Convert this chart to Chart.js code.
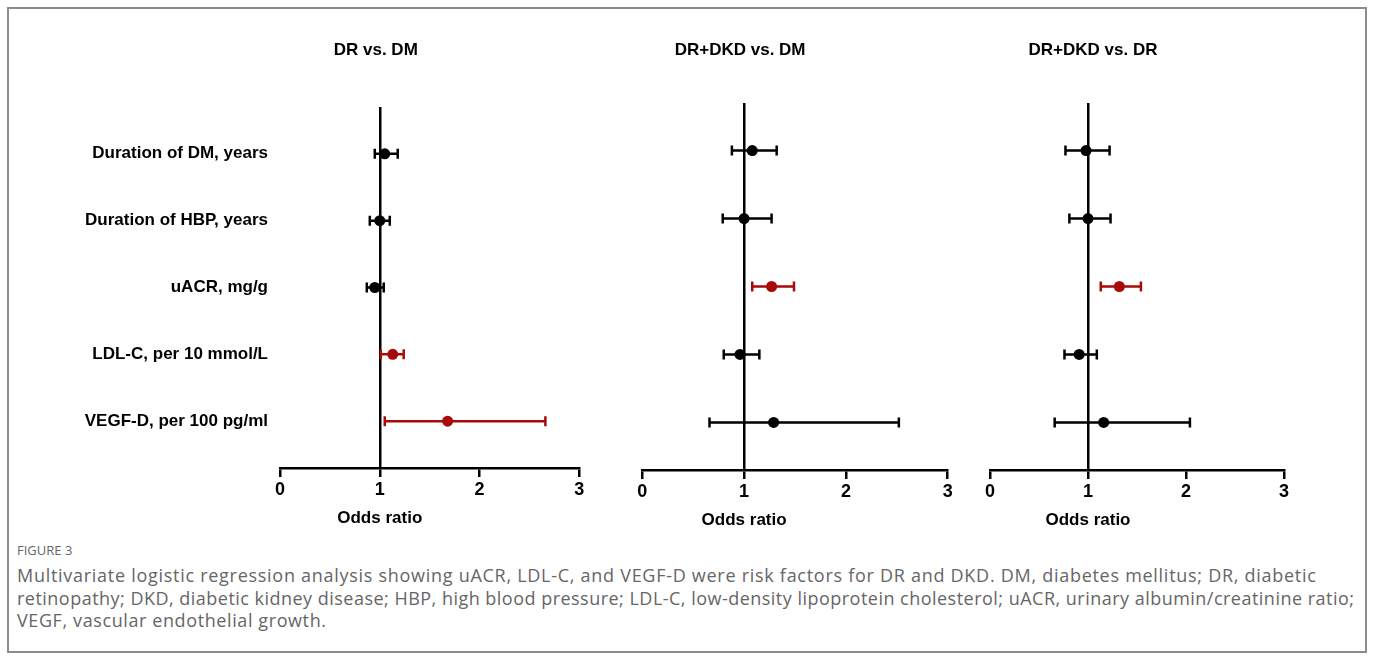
<!DOCTYPE html>
<html>
<head>
<meta charset="utf-8">
<script src="https://cdn.jsdelivr.net/npm/chart.js@4"></script>
<style>
  body { margin: 0; background: #fff; }
  #wrap { position: relative; width: 1373px; height: 659px; overflow: hidden; }
  #frame { position: absolute; left: 7px; top: 7px; width: 1356px; height: 642px; border: 2px solid #8c8c8c; }
  .panel { position: absolute; top: 0; }
  .cap { position: absolute; left: 17px; white-space: nowrap; font-family: "Open Sans", sans-serif; color: #666; }
  #figno { top: 541px; font-size: 13px; }
  .line { font-size: 18px; }
</style>
</head>
<body>
<div id="wrap">
  <div id="frame"></div>
  <div class="panel" style="left:0px;width:600px;height:540px"><canvas id="c1"></canvas></div>
  <div class="panel" style="left:600px;width:370px;height:540px"><canvas id="c2"></canvas></div>
  <div class="panel" style="left:970px;width:340px;height:540px"><canvas id="c3"></canvas></div>
  <div class="cap" id="figno">FIGURE 3</div>
  <div class="cap line" style="top:563px;letter-spacing:0.72px">Multivariate logistic regression analysis showing uACR, LDL-C, and VEGF-D were risk factors for DR and DKD. DM, diabetes mellitus; DR, diabetic</div>
  <div class="cap line" style="top:586px;letter-spacing:0.48px">retinopathy; DKD, diabetic kidney disease; HBP, high blood pressure; LDL-C, low-density lipoprotein cholesterol; uACR, urinary albumin/creatinine ratio;</div>
  <div class="cap line" style="top:608px;letter-spacing:0.6px">VEGF, vascular endothelial growth.</div>
</div>
<script>
const categories = ['Duration of DM, years', 'Duration of HBP, years', 'uACR, mg/g', 'LDL-C, per 10 mmol/L', 'VEGF-D, per 100 pg/ml'];
const panelTitles = ['DR vs. DM', 'DR+DKD vs. DM', 'DR+DKD vs. DR'];
const xTicks = [0, 1, 2, 3];

// odds ratio and 95% CI, one set per comparison
const drDmOR   = [1.05, 1.00, 0.95, 1.13, 1.68];
const drDmLow  = [0.95, 0.90, 0.87, 1.01, 1.05];
const drDmHigh = [1.18, 1.10, 1.04, 1.24, 2.66];

const dkdDmOR   = [1.08, 1.00, 1.27, 0.96, 1.29];
const dkdDmLow  = [0.88, 0.79, 1.08, 0.80, 0.66];
const dkdDmHigh = [1.32, 1.27, 1.49, 1.15, 2.52];

const dkdDrOR   = [0.98, 1.00, 1.32, 0.91, 1.16];
const dkdDrLow  = [0.77, 0.81, 1.13, 0.76, 0.66];
const dkdDrHigh = [1.22, 1.23, 1.54, 1.09, 2.04];

const RED = '#a80a0a';
const FONT = '"Liberation Sans", Arial, sans-serif';

// whiskers with caps, drawn under the dots
const errorBars = {
  id: 'errorBars',
  beforeDatasetsDraw(chart) {
    const ctx = chart.ctx;
    const xs = chart.scales.x, ys = chart.scales.y;
    chart.data.datasets.forEach(ds => {
      ds.data.forEach((p, i) => {
        const y = ys.getPixelForValue(p.y);
        const x1 = xs.getPixelForValue(ds.low[i]);
        const x2 = xs.getPixelForValue(ds.high[i]);
        ctx.save();
        ctx.strokeStyle = ds.backgroundColor[i];
        ctx.lineWidth = 2.5;
        ctx.beginPath();
        ctx.moveTo(x1, y); ctx.lineTo(x2, y);
        ctx.moveTo(x1, y - 5); ctx.lineTo(x1, y + 5);
        ctx.moveTo(x2, y - 5); ctx.lineTo(x2, y + 5);
        ctx.stroke();
        ctx.restore();
      });
    });
  }
};

// panel title and axis title, centred on OR = 1
const refTexts = {
  id: 'refTexts',
  afterDraw(chart, args, opts) {
    const ctx = chart.ctx;
    const cx = chart.scales.x.getPixelForValue(1);
    ctx.save();
    ctx.fillStyle = '#000';
    ctx.textAlign = 'center';
    ctx.textBaseline = 'middle';
    ctx.font = 'bold 17px ' + FONT;
    ctx.fillText(opts.title, cx + opts.dx, 50);
    ctx.fillText('Odds ratio', cx, chart.chartArea.bottom + 50);
    ctx.restore();
  }
};

function makePanel(id, title, or, low, high, pad, showLabels, dx) {
  const colors = low.map(v => v > 1 ? RED : '#000');
  new Chart(document.getElementById(id), {
    type: 'scatter',
    data: {
      datasets: [{
        data: or.map((v, i) => ({ x: v, y: i + 1 })),
        low: low,
        high: high,
        backgroundColor: colors,
        borderWidth: 0,
        pointRadius: 5.5
      }]
    },
    options: {
      responsive: true,
      maintainAspectRatio: false,
      animation: false,
      events: [],
      layout: { padding: pad },
      plugins: {
        legend: { display: false },
        tooltip: { enabled: false },
        refTexts: { title: title, dx: dx }
      },
      scales: {
        x: {
          type: 'linear',
          min: 0, max: 3,
          afterBuildTicks: s => { s.ticks = xTicks.map(v => ({ value: v })); },
          afterFit: s => { s.height = 40; },
          ticks: { color: '#000', padding: 2, font: { family: FONT, size: 18, weight: 'bold' } },
          grid: {
            color: c => c.tick && c.tick.value === 1 ? '#000' : 'rgba(0,0,0,0)',
            lineWidth: 2.5,
            drawTicks: true,
            tickLength: 9,
            tickColor: '#000',
            tickWidth: 2.5
          },
          border: { display: true, color: '#000', width: 2.5 }
        },
        y: {
          type: 'linear',
          reverse: true,
          min: 0.3, max: 5.7,
          display: showLabels,
          afterBuildTicks: s => { s.ticks = categories.map((c, i) => ({ value: i + 1 })); },
          afterFit: s => { s.width = showLabels ? 280 : 0; },
          ticks: {
            color: '#000',
            padding: 12,
            font: { family: FONT, size: 17, weight: 'bold' },
            callback: v => categories[v - 1]
          },
          grid: { display: false, drawTicks: false },
          border: { display: false }
        }
      }
    },
    plugins: [errorBars, refTexts]
  });
}

makePanel('c1', panelTitles[0], drDmOR, drDmLow, drDmHigh, { left: 0, right: 20.7, top: 107, bottom: 32 }, true, -4);
makePanel('c2', panelTitles[1], dkdDmOR, dkdDmLow, dkdDmHigh, { left: 42.3, right: 22.3, top: 103, bottom: 30 }, false, -4);
makePanel('c3', panelTitles[2], dkdDrOR, dkdDrLow, dkdDrHigh, { left: 20, right: 26, top: 103, bottom: 30 }, false, 5);
</script>
</body>
</html>
